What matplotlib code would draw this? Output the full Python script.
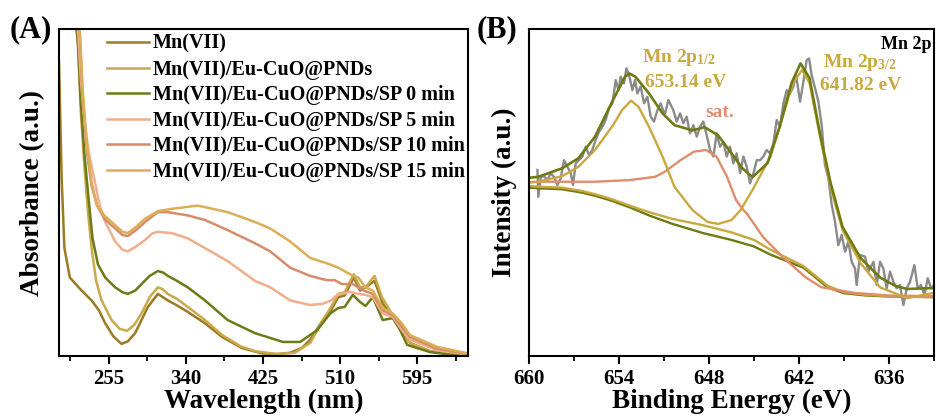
import matplotlib
matplotlib.use('Agg')
import matplotlib.pyplot as plt

plt.rcParams['font.family'] = ['Liberation Serif', 'DejaVu Serif']
plt.rcParams['font.weight'] = 'bold'
plt.rcParams['mathtext.fontset'] = 'custom'
plt.rcParams['mathtext.rm'] = 'Liberation Serif:bold'
plt.rcParams['mathtext.bf'] = 'Liberation Serif:bold'
plt.rcParams['mathtext.it'] = 'Liberation Serif:bold:italic'
plt.rcParams['lines.solid_joinstyle'] = 'round'

# ---------------- (A) UV-vis spectra ----------------
wl_mn = [200, 203, 206, 212, 225, 236, 244, 251, 260, 269, 276, 284, 291, 298, 309, 320, 330, 342, 361, 380,
         402, 424, 440, 455, 468, 477, 491, 500, 508, 515, 525, 532, 538, 548, 557, 568, 578, 587, 609, 630, 651]
abs_mn = [0.90, 0.54, 0.33, 0.24, 0.20, 0.17, 0.14, 0.10, 0.06, 0.037, 0.045, 0.07, 0.11, 0.15, 0.19, 0.17, 0.155, 0.135, 0.10, 0.058,
          0.024, 0.008, 0.006, 0.01, 0.025, 0.05, 0.11, 0.14, 0.18, 0.185, 0.24, 0.20, 0.21, 0.23, 0.16, 0.12, 0.08, 0.04, 0.015, 0.006, 0.002]

wl_eu = [218, 221, 224, 228, 232, 236, 241, 247, 258, 267, 275, 283, 291, 300, 309, 314, 320, 330, 342, 361,
         380, 400, 416, 440, 460, 477, 491, 500, 508, 515, 525, 532, 538, 548, 556, 568, 578, 587, 609, 630, 651]
abs_eu = [1.05, 0.95, 0.75, 0.58, 0.44, 0.33, 0.23, 0.17, 0.11, 0.083, 0.077, 0.095, 0.13, 0.18, 0.21, 0.205, 0.19, 0.175, 0.15, 0.11,
          0.064, 0.03, 0.015, 0.006, 0.01, 0.04, 0.11, 0.15, 0.19, 0.195, 0.25, 0.21, 0.21, 0.245, 0.18, 0.125, 0.08, 0.04, 0.015, 0.006, 0.002]

wl_sp0 = [218, 221, 224, 228, 232, 237, 243, 251, 262, 270, 276, 284, 291, 300, 309, 315, 320, 330, 342, 361,
          386, 416, 447, 466, 485, 499, 508, 515, 524, 532, 538, 546, 557, 568, 576, 584, 609, 630, 651]
abs_sp0 = [1.05, 0.95, 0.78, 0.62, 0.50, 0.36, 0.28, 0.24, 0.21, 0.195, 0.19, 0.20, 0.22, 0.245, 0.26, 0.255, 0.245, 0.23, 0.21, 0.17,
           0.11, 0.07, 0.043, 0.043, 0.08, 0.13, 0.147, 0.15, 0.187, 0.165, 0.153, 0.18, 0.11, 0.116, 0.08, 0.034, 0.012, 0.005, 0.002]

wl_sp5 = [220, 224, 228, 233, 239, 245, 251, 262, 270, 276, 285, 295, 303, 309, 316, 324, 342, 361, 386, 416,
          433, 455, 477, 491, 500, 507, 521, 530, 538, 546, 557, 568, 578, 587, 617, 651]
abs_sp5 = [1.05, 0.85, 0.72, 0.62, 0.54, 0.46, 0.41, 0.35, 0.325, 0.32, 0.335, 0.355, 0.375, 0.38, 0.378, 0.376, 0.36, 0.33, 0.29, 0.23,
           0.21, 0.17, 0.156, 0.16, 0.17, 0.187, 0.196, 0.19, 0.187, 0.18, 0.13, 0.12, 0.08, 0.05, 0.018, 0.004]

wl_sp10 = [222, 226, 231, 236, 242, 250, 262, 270, 276, 285, 295, 309, 320, 342, 361, 386, 416, 433, 455, 477,
           495, 504, 512, 524, 536, 546, 557, 568, 578, 587, 617, 651]
abs_sp10 = [1.05, 0.80, 0.62, 0.52, 0.46, 0.42, 0.39, 0.37, 0.367, 0.385, 0.41, 0.44, 0.44, 0.43, 0.416, 0.385, 0.345, 0.32, 0.27, 0.245,
            0.232, 0.232, 0.22, 0.22, 0.20, 0.19, 0.14, 0.125, 0.09, 0.058, 0.022, 0.006]

wl_sp15 = [222, 226, 231, 236, 242, 250, 262, 270, 276, 285, 295, 309, 324, 353, 386, 416, 433, 455, 477, 499,
           508, 521, 530, 538, 546, 557, 568, 578, 587, 617, 651]
abs_sp15 = [1.05, 0.82, 0.64, 0.53, 0.46, 0.43, 0.40, 0.38, 0.376, 0.395, 0.42, 0.443, 0.45, 0.46, 0.44, 0.41, 0.39, 0.35, 0.30, 0.28,
            0.27, 0.25, 0.24, 0.21, 0.20, 0.147, 0.13, 0.10, 0.064, 0.028, 0.008]

labels_a = ['Mn(VII)', 'Mn(VII)/Eu-CuO@PNDs', 'Mn(VII)/Eu-CuO@PNDs/SP 0 min',
            'Mn(VII)/Eu-CuO@PNDs/SP 5 min', 'Mn(VII)/Eu-CuO@PNDs/SP 10 min',
            'Mn(VII)/Eu-CuO@PNDs/SP 15 min']
colors_a = ['#9a7a22', '#c9a94a', '#6c7b18', '#f2ad8a', '#d68c6c', '#dcae55']

# ---------------- (B) XPS Mn 2p ----------------
be_raw = [659.44, 659.38, 659.22, 659.0, 658.78, 658.56, 658.33, 658.11, 657.89, 657.67,
          657.44, 657.22, 657.07, 656.89, 656.67, 656.44, 656.22, 656.0, 655.78, 655.56,
          655.33, 655.11, 654.89, 654.67, 654.44, 654.22, 654.04, 653.89, 653.67, 653.51,
          653.33, 653.11, 652.93, 652.78, 652.56, 652.33, 652.11, 651.89, 651.67, 651.44,
          651.22, 651.0, 650.93, 650.71, 650.38, 650.16, 649.93, 649.71, 649.49, 649.27,
          649.04, 648.82, 648.6, 648.38, 648.16, 647.93, 647.71, 647.49, 647.27, 647.04,
          646.82, 646.6, 646.38, 646.16, 645.93, 645.71, 645.49, 645.27, 645.04, 644.82,
          644.6, 644.38, 644.16, 643.93, 643.71, 643.49, 643.27, 643.04, 642.82, 642.6,
          642.38, 642.2, 641.93, 641.71, 641.49, 641.33, 641.16, 640.93, 640.71, 640.49,
          640.27, 640.04, 639.82, 639.6, 639.38, 639.16, 638.93, 638.71, 638.49, 638.27,
          638.16, 637.93, 637.6, 637.38, 637.04, 636.82, 636.6, 636.38, 636.16, 635.93,
          635.71, 635.49, 635.27, 635.04, 634.82, 634.6, 634.31, 634.09, 633.87, 633.64,
          633.42, 633.2, 632.98]
int_raw = [0.569, 0.487, 0.548, 0.550, 0.538, 0.559, 0.548, 0.523, 0.543, 0.599,
           0.579, 0.559, 0.523, 0.589, 0.599, 0.610, 0.640, 0.615, 0.630, 0.661,
           0.686, 0.701, 0.722, 0.757, 0.773, 0.844, 0.813, 0.854, 0.834, 0.880,
           0.859, 0.813, 0.844, 0.803, 0.824, 0.773, 0.793, 0.732, 0.717, 0.752,
           0.773, 0.742, 0.742, 0.783, 0.752, 0.717, 0.742, 0.712, 0.732, 0.681,
           0.706, 0.671, 0.701, 0.717, 0.676, 0.630, 0.610, 0.681, 0.640, 0.655,
           0.610, 0.640, 0.589, 0.620, 0.559, 0.610, 0.579, 0.528, 0.559, 0.599,
           0.599, 0.610, 0.630, 0.620, 0.650, 0.722, 0.701, 0.773, 0.813, 0.803,
           0.824, 0.859, 0.778, 0.839, 0.905, 0.910, 0.859, 0.819, 0.778, 0.706,
           0.584, 0.543, 0.462, 0.411, 0.339, 0.370, 0.319, 0.350, 0.288, 0.268,
           0.217, 0.309, 0.304, 0.258, 0.288, 0.217, 0.288, 0.268, 0.207, 0.258,
           0.227, 0.207, 0.217, 0.156, 0.207, 0.227, 0.278, 0.207, 0.217, 0.187,
           0.238, 0.207, 0.217]

be_env = [660.0, 659.4, 657.8, 656.7, 655.6, 654.4, 653.6, 653.3, 652.9, 652.0,
          651.1, 650.3, 649.1, 648.3, 647.4, 646.5, 645.8, 645.1, 644.1, 643.3,
          642.5, 641.9, 641.3, 640.6, 639.9, 639.1, 637.9, 636.6, 635.6, 634.8, 633.0]
int_env = [0.545, 0.548, 0.574, 0.605, 0.671, 0.783, 0.854, 0.864, 0.854, 0.803,
           0.742, 0.706, 0.69, 0.70, 0.675, 0.62, 0.575, 0.547, 0.59, 0.70,
           0.835, 0.895, 0.85, 0.68, 0.53, 0.395, 0.30, 0.24, 0.215, 0.205, 0.208]

be_pk = [660.0, 659.4, 657.8, 656.7, 655.6, 654.4, 653.8, 653.2, 652.7, 652.0,
         651.1, 650.3, 649.1, 648.1, 647.4, 646.5, 645.9, 645.1, 643.9, 643.1,
         642.4, 641.8, 641.3, 640.6, 639.9, 639.1, 637.9, 636.6, 634.8, 633.0]
int_pk = [0.53, 0.533, 0.55, 0.579, 0.63, 0.706, 0.752, 0.781, 0.762, 0.701,
          0.61, 0.517, 0.446, 0.41, 0.404, 0.416, 0.446, 0.508, 0.61, 0.73,
          0.835, 0.875, 0.835, 0.67, 0.517, 0.385, 0.284, 0.21, 0.177, 0.193]

be_sat = [660.0, 659.4, 655.6, 653.3, 651.6, 651.0, 649.9, 649.0, 648.2, 647.5,
          646.8, 646.2, 645.7, 645.5, 644.4, 643.1, 641.6, 640.5, 638.3, 636.0, 633.0]
int_sat = [0.532, 0.533, 0.533, 0.538, 0.548, 0.562, 0.599, 0.625, 0.630, 0.610,
           0.548, 0.477, 0.446, 0.437, 0.364, 0.303, 0.242, 0.21, 0.193, 0.185, 0.183]

be_bg = [660.0, 659.4, 657.8, 656.5, 655.6, 654.5, 653.3, 652.0, 650.5, 648.4,
         646.5, 645.0, 643.9, 642.8, 641.7, 640.9, 640.1, 639.0, 637.5, 636.0, 633.0]
int_bg1 = [0.515, 0.513, 0.51, 0.50, 0.49, 0.475, 0.455, 0.43, 0.405, 0.376,
           0.355, 0.335, 0.31, 0.29, 0.27, 0.24, 0.21, 0.192, 0.185, 0.182, 0.18]
int_bg2 = [0.52, 0.518, 0.515, 0.505, 0.495, 0.48, 0.46, 0.44, 0.42, 0.40,
           0.378, 0.355, 0.325, 0.30, 0.275, 0.245, 0.215, 0.195, 0.187, 0.183, 0.18]

gold = '#c9a83e'
olive = '#6f7a12'
salmon = '#e08d6c'

fig = plt.figure(figsize=(9.36, 4.16), dpi=100)
axA = fig.add_axes([0.063, 0.1442, 0.437, 0.786])
axB = fig.add_axes([0.5652, 0.1442, 0.4327, 0.786])

series_a = [(wl_mn, abs_mn), (wl_eu, abs_eu), (wl_sp0, abs_sp0),
            (wl_sp5, abs_sp5), (wl_sp10, abs_sp10), (wl_sp15, abs_sp15)]
for (x, y), lab, c in zip(series_a, labels_a, colors_a):
    axA.plot(x, y, color=c, lw=1.8, label=lab)
axA.set_xlim(200, 651)
axA.set_ylim(0, 1)
axA.set_yticks([])
axA.set_xticks([255, 340, 425, 510, 595])
axA.set_xticks([212.5, 297.5, 382.5, 467.5, 552.5, 637.5], minor=True)
axA.set_xlabel('Wavelength (nm)', fontsize=19.5, fontweight='bold')
axA.set_ylabel('Absorbance (a.u.)', fontsize=19.5, fontweight='bold')
axA.xaxis.set_label_coords(0.5, -0.1)
axA.yaxis.set_label_coords(-0.035, 0.5)
axA.legend(loc='upper left', bbox_to_anchor=(0.117, 0.985), frameon=False,
           fontsize=14.5, handlelength=2.1, handletextpad=0.2, labelspacing=0.28,
           borderpad=0, borderaxespad=0)

# raw spectrum, background, satellite, peaks, envelope
axB.plot(be_raw, int_raw, color='#8a8a8a', lw=1.7)
axB.plot(be_bg, int_bg1, color=olive, lw=1.7)
axB.plot(be_bg, int_bg2, color=gold, lw=1.7)
axB.plot(be_sat, int_sat, color=salmon, lw=1.7)
axB.plot(be_pk, int_pk, color=gold, lw=1.7)
axB.plot(be_env, int_env, color=olive, lw=1.9)
axB.set_xlim(660, 633)
axB.set_ylim(0, 1)
axB.set_yticks([])
axB.set_xticks([660, 654, 648, 642, 636])
axB.set_xticks([657, 651, 645, 639, 633], minor=True)
axB.set_xlabel('Binding Energy (eV)', fontsize=19.5, fontweight='bold')
axB.set_ylabel('Intensity (a.u.)', fontsize=19.5, fontweight='bold')
axB.xaxis.set_label_coords(0.5, -0.1)
axB.yaxis.set_label_coords(-0.03, 0.5)

axB.text(652.47, 0.899, 'Mn 2p$_{1/2}$', color=gold, fontsize=14, fontweight='bold', va='baseline')
axB.text(652.27, 0.823, '653.14 eV', color=gold, fontsize=14, fontweight='bold', va='baseline')
axB.text(648.27, 0.731, 'sat.', color=salmon, fontsize=14, fontweight='bold', va='baseline')
axB.text(640.4, 0.884, 'Mn 2p$_{3/2}$', color=gold, fontsize=14, fontweight='bold', va='baseline')
axB.text(640.6, 0.813, '641.82 eV', color=gold, fontsize=14, fontweight='bold', va='baseline')
axB.text(633.15, 0.939, 'Mn 2p', color='black', fontsize=13, fontweight='bold', va='baseline', ha='right')

for ax in (axA, axB):
    for sp in ax.spines.values():
        sp.set_linewidth(1.5)
    ax.tick_params(axis='x', which='major', direction='out', length=6, width=1.5,
                   labelsize=15, pad=3)
    ax.tick_params(axis='x', which='minor', direction='out', length=3.5, width=1.3)
    for t in ax.get_xticklabels():
        t.set_fontweight('bold')

fig.text(10 / 936, 1 - 37 / 416, '(A)', fontsize=22, fontweight='bold', va='baseline')
fig.text(477 / 936, 1 - 37 / 416, '(B)', fontsize=22, fontweight='bold', va='baseline')

fig.savefig('out.png', dpi=100)
